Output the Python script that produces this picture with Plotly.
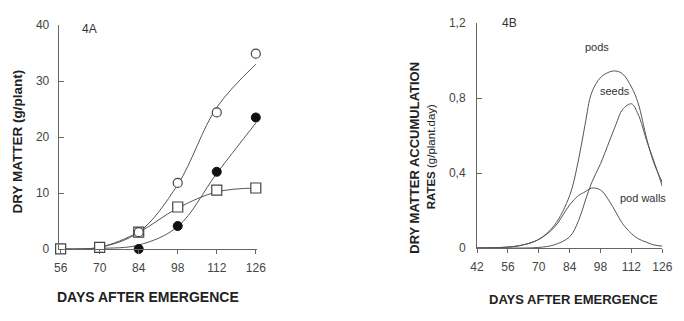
import plotly.graph_objects as go

# ---- Panel 4A data ----
days_a = [56, 70, 84, 98, 112, 126]
open_circle = [0.0, 0.3, 3.0, 11.8, 24.4, 34.9]
filled_days = [84, 98, 112, 126]
filled_circle = [0.0, 4.1, 13.8, 23.5]
square = [0.0, 0.3, 3.0, 7.5, 10.5, 10.9]
# fitted curves
open_curve = [0.0, 0.3, 3.0, 11.5, 25.3, 33.0]
filled_curve = [0.0, 0.1, 0.7, 4.0, 13.5, 22.5]
square_curve = [0.0, 0.3, 3.0, 7.3, 10.2, 10.9]

# ---- Panel 4B data ----
days_b = [42, 56, 63, 70, 77, 84, 88, 91, 94, 98, 102, 105, 108, 112, 115, 119, 122, 126]
pods = [0.0, 0.005, 0.017, 0.046, 0.12, 0.28, 0.47, 0.66, 0.83, 0.91, 0.94, 0.945, 0.93, 0.86, 0.775, 0.58, 0.46, 0.35]
seeds = [0.0, 0.0, 0.0, 0.003, 0.017, 0.06, 0.145, 0.25, 0.35, 0.45, 0.57, 0.66, 0.74, 0.77, 0.715, 0.57, 0.47, 0.33]
pod_walls = [0.0, 0.005, 0.017, 0.046, 0.11, 0.23, 0.28, 0.30, 0.32, 0.31, 0.25, 0.19, 0.13, 0.077, 0.05, 0.03, 0.017, 0.01]

ya_ticks = [0, 10, 20, 30, 40]
xa_ticks = [56, 70, 84, 98, 112, 126]
yb_ticks = [0, 0.4, 0.8, 1.2]
yb_labels = ["0", "0,4", "0,8", "1,2"]
xb_ticks = [42, 56, 70, 84, 98, 112, 126]

W, H = 684, 321
FONT = "Liberation Sans, Arial, sans-serif"
LINE = "#555555"
TXT = "#333333"

fig = go.Figure()
lw = 1.0
# curves A
for c in [open_curve, filled_curve, square_curve]:
    fig.add_trace(go.Scatter(x=days_a, y=c, mode="lines", line=dict(color=LINE, width=lw, shape="spline"),
                             xaxis="x", yaxis="y", showlegend=False, hoverinfo="skip"))
# markers A
fig.add_trace(go.Scatter(x=days_a, y=square, mode="markers", cliponaxis=False,
                         marker=dict(symbol="square", size=10, color="white", line=dict(color="#444", width=1.2)),
                         xaxis="x", yaxis="y", showlegend=False))
fig.add_trace(go.Scatter(x=days_a[2:], y=open_circle[2:], mode="markers", cliponaxis=False,
                         marker=dict(symbol="circle", size=9, color="white", line=dict(color="#444", width=1.2)),
                         xaxis="x", yaxis="y", showlegend=False))
fig.add_trace(go.Scatter(x=filled_days, y=filled_circle, mode="markers", cliponaxis=False,
                         marker=dict(symbol="circle", size=9, color="#111", line=dict(color="#111", width=1)),
                         xaxis="x", yaxis="y", showlegend=False))
# curves B
for c in [pods, seeds, pod_walls]:
    fig.add_trace(go.Scatter(x=days_b, y=c, mode="lines", line=dict(color=LINE, width=lw, shape="spline"),
                             xaxis="x2", yaxis="y2", showlegend=False, hoverinfo="skip"))

def px(x):
    return x / W

def py(y):
    return 1 - y / H

axcommon = dict(showgrid=False, zeroline=False, showline=True, linecolor="#666", linewidth=1,
                tickcolor="#666", tickfont=dict(family=FONT, size=12, color="#444"))

fig.update_layout(
    width=W, height=H, margin=dict(l=0, r=0, t=0, b=0),
    paper_bgcolor="white", plot_bgcolor="white",
    xaxis=dict(domain=[px(53), px(256)], range=[55.3, 126.3], tickvals=xa_ticks, ticks="outside",
               ticklen=4, anchor="y", ticklabelstandoff=4, **axcommon),
    yaxis=dict(domain=[py(253), py(19)], range=[0, 40], tickvals=ya_ticks, ticks="inside",
               ticklen=5, anchor="x", ticklabelstandoff=6, **axcommon),
    xaxis2=dict(domain=[px(482), px(672)], range=[42, 126], tickvals=xb_ticks, ticks="outside",
                ticklen=4, anchor="y2", ticklabelstandoff=4, **axcommon),
    yaxis2=dict(domain=[py(252), py(17)], range=[0, 1.2], tickvals=yb_ticks, ticktext=yb_labels,
                ticks="inside", ticklen=5, anchor="x2", ticklabelstandoff=8, **axcommon),
)

ann = []
def A(text, x, y, size, rot=0, bold=False, color=TXT):
    ann.append(dict(text=(f"<b>{text}</b>" if bold else text), x=px(x), y=py(y), xref="paper", yref="paper",
                    showarrow=False, textangle=rot, font=dict(family=FONT, size=size, color=color),
                    xanchor="center", yanchor="middle"))

A("4A", 85, 23, 12)
A("4B", 515, 17, 12)
A("DAYS AFTER EMERGENCE", 145, 303, 14, bold=True, color="#222")
A("DAYS AFTER EMERGENCE", 581, 306, 13, bold=True, color="#222")
A("DRY MATTER (g/plant)", 11, 141, 13.5, rot=-90, bold=True, color="#222")
A("DRY MATTER ACCUMULATION", 417, 158, 13, rot=-90, bold=True, color="#222")
A("<b>RATES</b> (g/plant.day)", 435, 157, 11.5, rot=-90, color="#222")
A("pods", 605, 42, 11)
A("seeds", 624, 88, 11)
A("pod walls", 652, 200, 11)
fig.update_layout(annotations=ann)

fig.write_html("out.html")
